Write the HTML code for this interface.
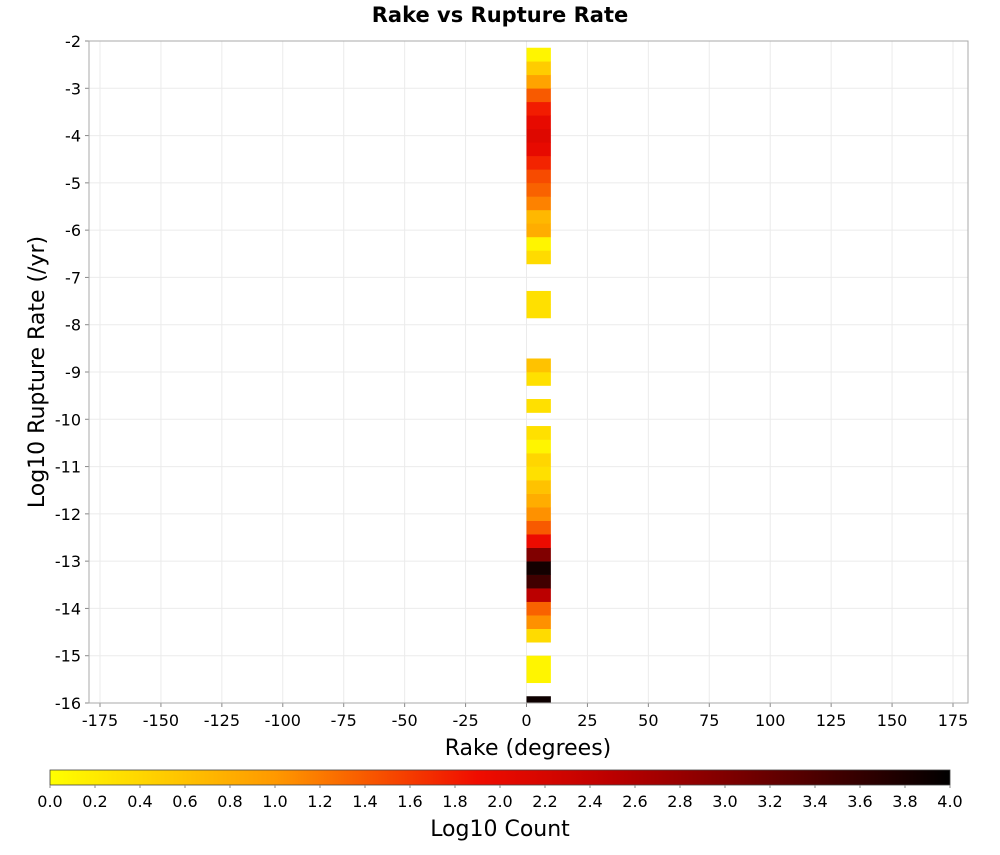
<!DOCTYPE html>
<html><head><meta charset="utf-8"><style>
body{margin:0;background:#fff;font-family:"Liberation Sans","DejaVu Sans",sans-serif}
svg text{font-family:"DejaVu Sans","Liberation Sans",sans-serif}
</style></head><body>
<svg id="chart" width="1000" height="850" xmlns="http://www.w3.org/2000/svg">
<defs><linearGradient id="cg" x1="0" x2="1" y1="0" y2="0"></linearGradient></defs>
<text x="500" y="22" text-anchor="middle" font-size="21" font-weight="bold">Rake vs Rupture Rate</text>
<g id="grid"></g><g id="cells"></g><g id="axes"></g><g id="legend"></g>
<text x="528" y="755" text-anchor="middle" font-size="22">Rake (degrees)</text>
<text transform="translate(44,372) rotate(-90)" text-anchor="middle" font-size="22">Log10 Rupture Rate (/yr)</text>
<text x="500" y="836" text-anchor="middle" font-size="22">Log10 Count</text>
</svg>
<script>
const xTicks=[-175,-150,-125,-100,-75,-50,-25,0,25,50,75,100,125,150,175];
const yTicks=[-2,-3,-4,-5,-6,-7,-8,-9,-10,-11,-12,-13,-14,-15,-16];
const cbTicks=[0,0.2,0.4,0.6,0.8,1,1.2,1.4,1.6,1.8,2,2.2,2.4,2.6,2.8,3,3.2,3.4,3.6,3.8,4];
const binRake=[0];
const binWidth=10;
const binStart=-16;
const binStep=2/7;
const counts=[3.9,null,0.1,0.1,null,0.35,1.05,1.35,2.5,3.5,3.85,3.0,1.95,1.4,1.05,0.8,0.6,0.3,0.4,0.1,0.3,null,0.3,null,0.3,0.6,null,null,null,0.3,0.3,null,null,0.35,0.1,0.8,0.7,1.15,1.35,1.5,1.75,2.0,2.1,2.0,1.8,1.4,0.9,0.5,0.1];
const cStops=[[0,[255,255,0]],[1,[255,153,0]],[1.9,[240,12,0]],[2.5,[187,0,0]],[3,[128,0,0]],[4,[0,0,0]]];
const NS="http://www.w3.org/2000/svg";
const PL=89,PR=968,PT=41,PB=703;
const sx=v=>100+(v+175)*(953-100)/350;
const sy=v=>PT+(-2-v)*(PB-PT)/14;
function col(v){for(let i=1;i<cStops.length;i++){if(v<=cStops[i][0]){const[a,ca]=cStops[i-1],[b,cb]=cStops[i];const t=(v-a)/(b-a);return"rgb("+ca.map((c,j)=>Math.round(c+(cb[j]-c)*t)).join(",")+")";}}return"rgb(0,0,0)";}
function mk(t,p,parent){const e=document.createElementNS(NS,t);for(const k in p)e.setAttribute(k,p[k]);parent.appendChild(e);return e;}
const grid=document.getElementById('grid'),cells=document.getElementById('cells'),axes=document.getElementById('axes'),leg=document.getElementById('legend');
mk('rect',{x:PL,y:PT,width:PR-PL,height:PB-PT,fill:'#fff'},grid);
xTicks.forEach(t=>{const l=mk('line',{x1:sx(t),x2:sx(t),y1:PT,y2:PB,stroke:'#ebebeb'},grid);


const tk=mk('line',{x1:sx(t),x2:sx(t),y1:PB,y2:PB+4,stroke:'#888'},axes);
const tx=mk('text',{x:sx(t),y:PB+23,'text-anchor':'middle','font-size':16},axes);tx.textContent=t;

});
yTicks.forEach(t=>{const l=mk('line',{x1:PL,x2:PR,y1:sy(t),y2:sy(t),stroke:'#ebebeb'},grid);


mk('line',{x1:PL-4,x2:PL,y1:sy(t),y2:sy(t),stroke:'#888'},axes);
const tx=mk('text',{x:PL-8,y:sy(t)+6,'text-anchor':'end','font-size':16},axes);tx.textContent=t;

});
const clip=mk('clipPath',{id:'pc'},document.querySelector('defs'));mk('rect',{x:PL,y:PT,width:PR-PL,height:PB-PT},clip);
cells.setAttribute('clip-path','url(#pc)');
binRake.forEach(r=>{counts.forEach((v,k)=>{if(v===null)return;const c=binStart+k*binStep;
const y1=sy(c+binStep/2),y2=sy(c-binStep/2);
const e=mk('rect',{x:sx(r),y:y1,width:sx(r+binWidth)-sx(r),height:y2-y1+0.3,fill:col(v)},cells);

});});
mk('rect',{x:PL,y:PT,width:PR-PL,height:PB-PT,fill:'none',stroke:'#aaa'},axes);
const g=document.getElementById('cg');
cStops.forEach(s=>mk('stop',{offset:(s[0]/4),'stop-color':col(s[0])},g));
const cx=v=>50+v*(950-50)/4;
const bar=mk('rect',{x:50,y:770,width:900,height:15,fill:'url(#cg)',stroke:'#444','stroke-width':0.8},leg);


cbTicks.forEach(t=>{mk('line',{x1:cx(t),x2:cx(t),y1:785,y2:788,stroke:'#888'},leg);
const tx=mk('text',{x:cx(t),y:807,'text-anchor':'middle','font-size':16},leg);tx.textContent=t.toFixed(1);

});
</script>
</body></html>
